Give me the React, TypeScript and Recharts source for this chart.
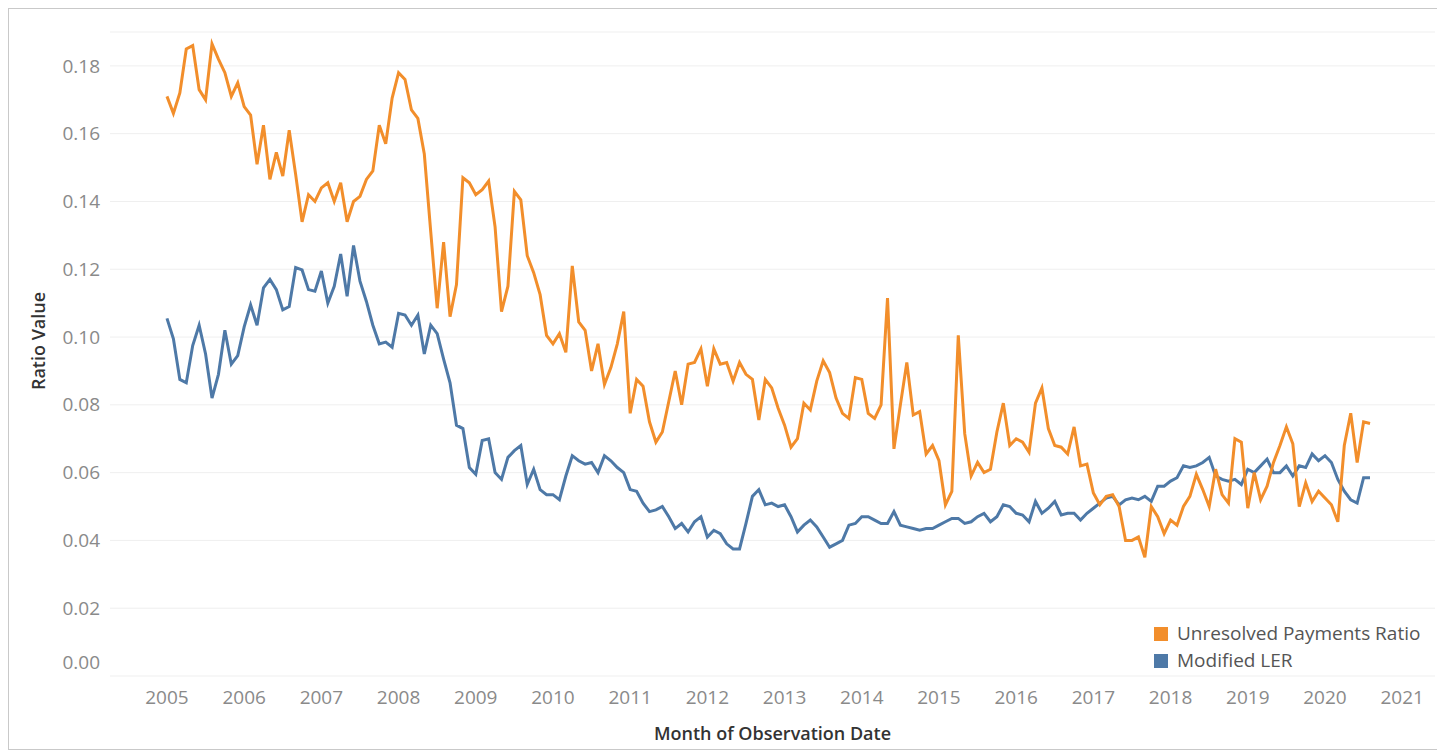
import { CartesianGrid, Label, Legend, Line, LineChart, XAxis, YAxis } from "recharts";

const FONT = "'Open Sans', 'DejaVu Sans', sans-serif";
const ORANGE = "#f28e2b";
const BLUE = "#4e79a7";

// monthly observations, Jan 2005 .. Aug 2020
const startYear = 2005;
const yearTicks = [2005, 2006, 2007, 2008, 2009, 2010, 2011, 2012, 2013, 2014, 2015, 2016, 2017, 2018, 2019, 2020, 2021];
const ratioTicks = [0, 0.02, 0.04, 0.06, 0.08, 0.1, 0.12, 0.14, 0.16, 0.18];

const unresolvedPayments = [
  0.171, 0.166, 0.172, 0.185, 0.186, 0.173, 0.170, 0.1865, 0.182, 0.178, 0.171, 0.175,
  0.168, 0.1655, 0.151, 0.1625, 0.1465, 0.1545, 0.1475, 0.161, 0.148, 0.134, 0.142, 0.140,
  0.144, 0.1455, 0.140, 0.1455, 0.134, 0.140, 0.1415, 0.1465, 0.149, 0.1625, 0.157, 0.1705,
  0.178, 0.176, 0.167, 0.1645, 0.154, 0.131, 0.1085, 0.128, 0.106, 0.1155, 0.147, 0.1455,
  0.142, 0.1435, 0.146, 0.1325, 0.1075, 0.115, 0.143, 0.1405, 0.124, 0.119, 0.1125, 0.1005,
  0.098, 0.101, 0.0955, 0.121, 0.1045, 0.102, 0.090, 0.098, 0.086, 0.091, 0.098, 0.1075,
  0.0775, 0.0875, 0.0855, 0.075, 0.069, 0.072, 0.081, 0.090, 0.080, 0.092, 0.0925, 0.0965,
  0.0855, 0.0965, 0.092, 0.0925, 0.087, 0.0925, 0.089, 0.0875, 0.0755, 0.0875, 0.085, 0.079,
  0.074, 0.0675, 0.070, 0.0805, 0.0785, 0.087, 0.093, 0.0895, 0.082, 0.0775, 0.076, 0.088,
  0.0875, 0.0775, 0.076, 0.080, 0.1115, 0.067, 0.080, 0.0925, 0.077, 0.078, 0.0655, 0.068,
  0.0635, 0.0505, 0.0545, 0.1005, 0.0715, 0.059, 0.063, 0.060, 0.061, 0.072, 0.0805, 0.068,
  0.070, 0.069, 0.066, 0.0805, 0.085, 0.073, 0.068, 0.0675, 0.0655, 0.0735, 0.062, 0.0625,
  0.054, 0.0505, 0.053, 0.0535, 0.050, 0.040, 0.040, 0.041, 0.035, 0.050, 0.047, 0.042,
  0.046, 0.0445, 0.050, 0.053, 0.0595, 0.055, 0.050, 0.061, 0.0535, 0.051, 0.070, 0.069,
  0.0495, 0.060, 0.052, 0.056, 0.063, 0.068, 0.0735, 0.0685, 0.050, 0.057, 0.0515, 0.0545,
  0.0525, 0.0505, 0.0455, 0.068, 0.0775, 0.063, 0.075, 0.0745,
];

const modifiedLer = [
  0.1055, 0.0995, 0.0875, 0.0865, 0.0975, 0.1035, 0.095, 0.082, 0.089, 0.102, 0.092, 0.0945,
  0.103, 0.1095, 0.1035, 0.1145, 0.117, 0.114, 0.108, 0.109, 0.1205, 0.1198, 0.114, 0.1135,
  0.1195, 0.110, 0.115, 0.1245, 0.112, 0.127, 0.1165, 0.1105, 0.1035, 0.098, 0.0985, 0.097,
  0.107, 0.1065, 0.1035, 0.1065, 0.095, 0.1035, 0.101, 0.0935, 0.0865, 0.074, 0.073, 0.0615,
  0.0595, 0.0695, 0.070, 0.060, 0.058, 0.0645, 0.0665, 0.068, 0.0565, 0.061, 0.055, 0.0535,
  0.0535, 0.052, 0.059, 0.065, 0.0635, 0.0625, 0.063, 0.060, 0.065, 0.0635, 0.0615, 0.060,
  0.055, 0.0545, 0.051, 0.0485, 0.049, 0.050, 0.047, 0.0435, 0.045, 0.0425, 0.0455, 0.047,
  0.041, 0.043, 0.042, 0.039, 0.0375, 0.0375, 0.045, 0.053, 0.055, 0.0505, 0.051, 0.050,
  0.0505, 0.047, 0.0425, 0.0445, 0.046, 0.044, 0.041, 0.038, 0.039, 0.040, 0.0445, 0.045,
  0.047, 0.047, 0.046, 0.045, 0.045, 0.0485, 0.0445, 0.044, 0.0435, 0.043, 0.0435, 0.0435,
  0.0445, 0.0455, 0.0465, 0.0465, 0.045, 0.0455, 0.047, 0.048, 0.0455, 0.047, 0.0505, 0.050,
  0.048, 0.0475, 0.0455, 0.0515, 0.048, 0.0495, 0.0515, 0.0475, 0.048, 0.048, 0.046, 0.048,
  0.0495, 0.051, 0.0525, 0.053, 0.0505, 0.052, 0.0525, 0.052, 0.053, 0.0515, 0.056, 0.056,
  0.0575, 0.0585, 0.062, 0.0615, 0.062, 0.063, 0.0645, 0.059, 0.058, 0.0575, 0.058, 0.0565,
  0.061, 0.060, 0.062, 0.064, 0.060, 0.060, 0.062, 0.059, 0.062, 0.0615, 0.0655, 0.0635,
  0.065, 0.063, 0.058, 0.0545, 0.052, 0.051, 0.0585, 0.0585,
];

const legendItems = [
  { name: "Unresolved Payments Ratio", color: ORANGE },
  { name: "Modified LER", color: BLUE },
];

const rows = unresolvedPayments.map((value, i) => ({
  t: startYear + i / 12,
  unresolved: value,
  ler: modifiedLer[i],
}));

function YTick({ x, y, payload }: any) {
  // tableau nudges the bottom label up so it stays inside the pane
  const lift = payload.value === 0 ? -14 : 0;
  return (
    <text x={x} y={y + lift} dy="0.35em" textAnchor="end" fill="#8a8a8a" fontSize={19} fontFamily={FONT}>
      {payload.value.toFixed(2)}
    </text>
  );
}

function XTick({ x, y, payload }: any) {
  return (
    <text x={x} y={y} dy="0.71em" textAnchor="middle" fill="#8a8a8a" fontSize={19} fontFamily={FONT}>
      {payload.value}
    </text>
  );
}

function YTitle() {
  return (
    <text x={30} y={333} transform="rotate(-90 30 333)" textAnchor="middle" dominantBaseline="central" fill="#333" fontSize={18} fontWeight={600} fontFamily={FONT}>
      Ratio Value
    </text>
  );
}

function LegendBox() {
  return (
    <div style={{ fontFamily: FONT, fontSize: 19, color: "#555", lineHeight: "27px" }}>
      {legendItems.map((item) => (
        <div key={item.name} style={{ display: "flex", alignItems: "center", whiteSpace: "nowrap" }}>
          <span style={{ display: "inline-block", width: 14, height: 14, background: item.color, marginRight: 9 }} />
          {item.name}
        </div>
      ))}
    </div>
  );
}

export default function App() {
  return (
    <div style={{ position: "relative", width: 1432, height: 742 }}>
      <LineChart width={1432} height={742} data={rows} margin={{ top: 24, right: 5, bottom: 0, left: 0 }}>
        <CartesianGrid horizontal vertical={false} stroke="#efefef" />
        <XAxis
          type="number"
          dataKey="t"
          domain={[2004.262, 2021.425]}
          ticks={yearTicks}
          allowDataOverflow
          height={74}
          axisLine={false}
          tickLine={false}
          tickSize={0}
          tickMargin={15}
          tick={<XTick />}
        >
          <Label value="Month of Observation Date" position="insideBottom" offset={10} fill="#333" fontSize={18} fontWeight={600} fontFamily={FONT} />
        </XAxis>
        <YAxis
          type="number"
          domain={[0, 0.19]}
          ticks={ratioTicks}
          width={102}
          axisLine={false}
          tickLine={false}
          tickSize={0}
          tickMargin={10}
          tick={<YTick />}
        >
          <Label content={<YTitle />} />
        </YAxis>
        <Legend layout="horizontal" verticalAlign="middle" align="center" content={<LegendBox />} wrapperStyle={{ left: 1146, top: 612, width: "auto" }} />
        <Line type="linear" dataKey="ler" name="Modified LER" stroke={BLUE} strokeWidth={3} dot={false} activeDot={false} isAnimationActive={false} />
        <Line type="linear" dataKey="unresolved" name="Unresolved Payments Ratio" stroke={ORANGE} strokeWidth={3} dot={false} activeDot={false} isAnimationActive={false} />
      </LineChart>
      <div style={{ position: "absolute", inset: 0, border: "1px solid #c9c9c9", pointerEvents: "none" }} />
    </div>
  );
}
